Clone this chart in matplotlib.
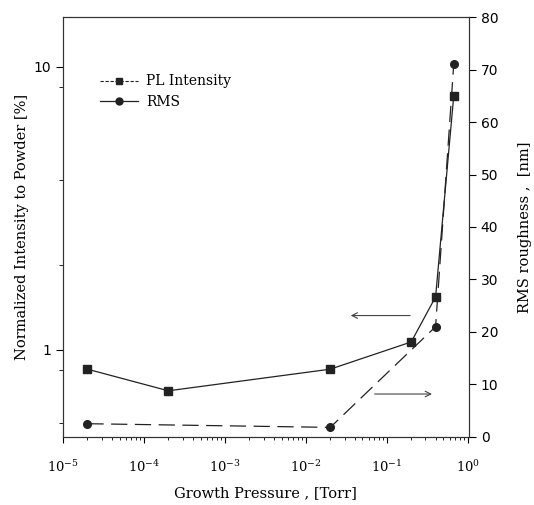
import matplotlib
matplotlib.use('Agg')
import matplotlib.pyplot as plt
from matplotlib.lines import Line2D
from matplotlib.ticker import FixedLocator, NullFormatter

# dados
pressao = [2e-5, 2e-4, 2e-2, 0.2, 0.4, 0.67]
pl_intensidade = [0.855, 0.717, 0.855, 1.067, 1.54, 7.9]
pressao_rms = [2e-5, 2e-2, 0.4, 0.67]
rms = [2.5, 1.8, 21.0, 71.0]

x_ticks = [1e-5, 1e-4, 1e-3, 1e-2, 1e-1, 1e0]
x_labels = ['$10^{-5}$', '$10^{-4}$', '$10^{-3}$', '$10^{-2}$', '$10^{-1}$', '$10^{0}$']
rms_ticks = [0, 10, 20, 30, 40, 50, 60, 70, 80]

plt.rcParams['mathtext.fontset'] = 'dejavuserif'
plt.rcParams['font.family'] = 'DejaVu Serif'

fig = plt.figure(figsize=(5.34, 5.05), dpi=100)
ax = fig.add_axes([0.118, 0.135, 0.760, 0.831])
ax2 = ax.twinx()

ax.plot(pressao, pl_intensidade, color='#222222', lw=0.9, marker='s', ms=5.5)
ax2.plot(pressao_rms, rms, color='#222222', lw=0.9, ls=(0, (13, 6)), marker='o', ms=5.5)

ax.set_xscale('log')
ax.set_yscale('log')
ax.set_xlim(1e-5, 1.03)
ax.set_ylim(0.493, 15)
ax2.set_ylim(0, 80)

ax.set_xticks(x_ticks)
ax.set_xticklabels(x_labels, fontsize=9.5)
ax.set_yticks([1, 10])
ax.set_yticklabels(['1', '10'], fontsize=10, family='DejaVu Sans')
ax.yaxis.set_minor_locator(FixedLocator([0.55, 0.85, 2, 4, 8.5]))
ax.yaxis.set_minor_formatter(NullFormatter())
ax2.set_yticks(rms_ticks)
ax2.set_yticklabels([str(t) for t in rms_ticks], fontsize=10, family='DejaVu Sans')

ax.tick_params(axis='x', which='major', direction='out', length=4, width=0.8, pad=12)
ax.tick_params(axis='x', which='minor', direction='out', length=2.5, width=0.6)
ax.tick_params(axis='y', which='major', direction='out', length=5, width=0.8)
ax.tick_params(axis='y', which='minor', direction='out', length=3, width=0.6)
ax2.tick_params(axis='y', direction='out', length=5, width=0.8)

for a in (ax, ax2):
    for s in a.spines.values():
        s.set_linewidth(0.8)
        s.set_color('#333333')

ax.set_xlabel('Growth Pressure , [Torr]', fontsize=10.5, labelpad=8)
ax.set_ylabel('Normalized Intensity to Powder [%]', fontsize=10.5, labelpad=3)
ax2.set_ylabel('RMS roughness ,  [nm]', fontsize=10.5, labelpad=14)

# setas indicando o eixo de cada curva
ax.annotate('', xy=(0.702, 0.289), xytext=(0.862, 0.289), xycoords='axes fraction',
            arrowprops=dict(arrowstyle='->', color='#444444', lw=0.8))
ax.annotate('', xy=(0.916, 0.102), xytext=(0.761, 0.102), xycoords='axes fraction',
            arrowprops=dict(arrowstyle='->', color='#444444', lw=0.8))

# legenda como no original
handles = [Line2D([], [], color='#222222', lw=0.8, ls=(0, (3, 1.5)), marker='s', ms=5),
           Line2D([], [], color='#222222', lw=0.9, marker='o', ms=5)]
ax.legend(handles, ['PL Intensity', 'RMS'], loc='upper left', bbox_to_anchor=(0.075, 0.88),
          frameon=False, fontsize=10, handlelength=2.7, handletextpad=0.6,
          labelspacing=0.45, borderpad=0)

fig.savefig('out.png', dpi=100)
